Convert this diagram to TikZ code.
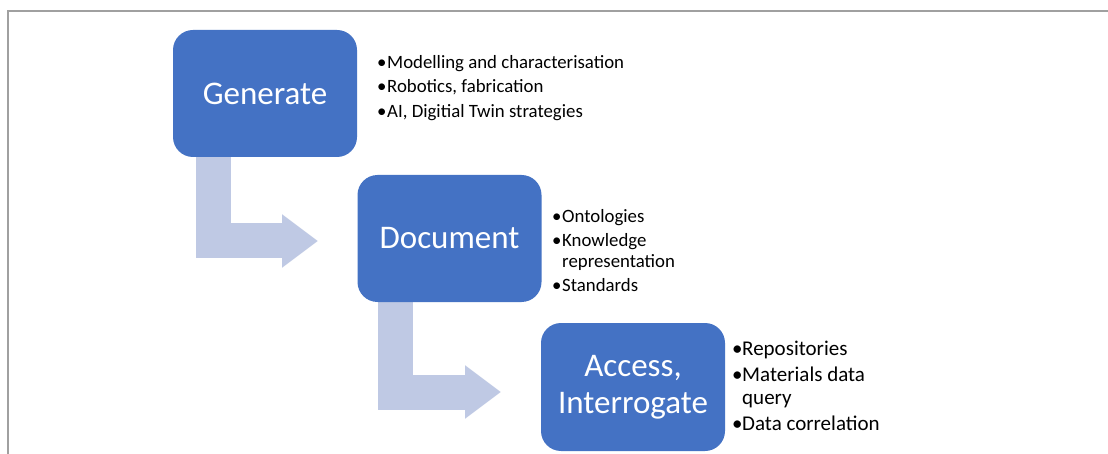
\documentclass[tikz,border=0pt]{standalone}
\usepackage{fontspec}
\setmainfont{Carlito}
\usetikzlibrary{arrows.meta}
\pgfdeclarelayer{background}
\pgfsetlayers{background,main}
\definecolor{boxblue}{RGB}{68,114,196}
\definecolor{flowblue}{RGB}{191,201,228}
\definecolor{framegray}{RGB}{160,160,160}
\tikzset{
  stage/.style={draw=none, fill=boxblue, rounded corners=20pt, minimum width=184pt, minimum height=127pt, inner sep=0pt, text=white, align=center, font=\fontsize{33}{37}\selectfont},
  flow/.style={draw=flowblue, line width=35pt, line join=miter, -{Triangle[length=36pt,width=51pt]}},
  bullets/.style={anchor=west, inner sep=0pt, align=left, text=black},
}
\newcommand{\bul}{\makebox[10pt][l]{•}}
\begin{document}
\begin{tikzpicture}[x=1pt,y=-1pt]
\useasboundingbox (0,0) rectangle (1108,454);
\draw[framegray, line width=1.5pt] (8,470) -- (8,11) -- (1120,11);
% boxes
\node[stage] (gen) at (265,93.5) {Generate};
\node[stage] (doc) at (449.5,238.5) {Document};
\node[stage, minimum height=128pt] (acc) at (633,387) {Access,\\Interrogate};
% connectors
\coordinate (c1) at (213.5,0);
\coordinate (t1) at (318,241);
\coordinate (c2) at (395.5,0);
\coordinate (t2) at (501,392);
\begin{pgfonlayer}{background}
\fill[white] (0,0) rectangle (1108,454);
\draw[flow] (gen.south -| c1) |- (t1);
\draw[flow] (doc.south -| c2) |- (t2);
\end{pgfonlayer}
% bullet lists
\node[bullets, font=\fontsize{18.8}{21.5}\selectfont] (genl) at (377,88)
  {\bul Modelling and characterisation\\[3pt]\bul Robotics, fabrication\\[3pt]\bul AI, Digitial Twin strategies};
\node[bullets, font=\fontsize{18.8}{21}\selectfont] (docl) at (552,251)
  {\bul Ontologies\\[3pt]\bul Knowledge\\\hspace*{10pt}representation\\[3pt]\bul Standards};
\node[bullets, font=\fontsize{21}{23}\selectfont] (accl) at (732,386)
  {\bul Repositories\\[3pt]\bul Materials data\\\hspace*{10pt}query\\[3pt]\bul Data correlation};
\end{tikzpicture}
\end{document}
